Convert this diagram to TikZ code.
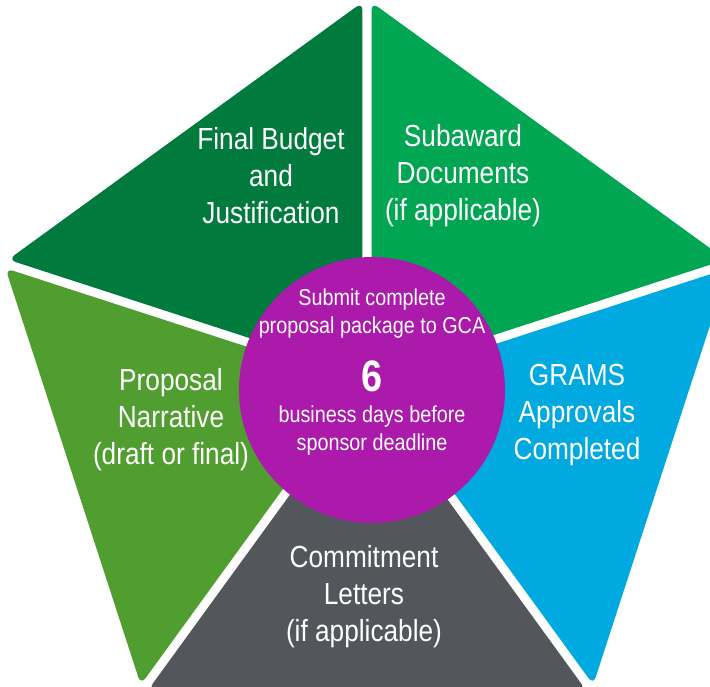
\documentclass[tikz,border=0pt]{standalone}
\usepackage{fontspec}
\setmainfont{Liberation Sans}[FakeStretch=0.86]
\usepackage{xcolor}
\usetikzlibrary{positioning,calc}
\definecolor{budgetgreen}{RGB}{0,122,61}
\definecolor{subgreen}{RGB}{0,166,81}
\definecolor{narrgreen}{RGB}{80,158,47}
\definecolor{gramsblue}{RGB}{0,169,224}
\definecolor{commitgrey}{RGB}{83,86,90}
\definecolor{hubpurple}{RGB}{171,26,171}

\begin{document}
\begin{tikzpicture}[x=1pt,y=1pt,
  lbl/.style={text=white,align=center,font=\fontsize{30.5}{37}\selectfont},
  sec/.style={rounded corners=8pt}]
\clip (0,0) rectangle (710,687);
\coordinate (o) at (367,306);
\foreach \k/\a in {1/90,2/162,3/234,4/306,5/18}{
  \coordinate (v\k) at ($(o)+(\a:382)$);
  \coordinate (i\k) at ($(o)+(\a+36:7.7)$);
}
% five sectors, pulled in by half the white gap
\foreach \k/\m/\c in {1/2/budgetgreen,2/3/narrgreen,3/4/commitgrey,4/5/gramsblue,5/1/subgreen}{
  \fill[\c,sec] (i\k) -- ($(v\k)!5.6pt!(v\m)$) -- ($(v\m)!5.6pt!(v\k)$) -- cycle;
}
% centre disc
\node[circle,fill=hubpurple,minimum size=266pt,inner sep=0pt] (hub) at (372,297) {};
\node[text=white,align=center,font=\fontsize{23}{28}\selectfont] (hubtxt) at ($(hub.center)+(0,18)$)
  {Submit complete\\proposal package to GCA\\[22pt]{\fontsize{44}{44}\selectfont\bfseries 6}\\[3pt]business days before\\sponsor deadline};
% labels
\node[lbl] (budget) at (271,511) {Final Budget\\and\\Justification};
\node[lbl] (subaward) at (463,511) {Subaward\\Documents\\(if applicable)};
\node[lbl] (narrative) at (171,267) {Proposal\\Narrative\\(draft or final)};
\node[lbl] (grams) at (577,272) {GRAMS\\Approvals\\Completed};
\node[lbl] (commit) at (364,90) {Commitment\\Letters\\(if applicable)};
\end{tikzpicture}
\end{document}
